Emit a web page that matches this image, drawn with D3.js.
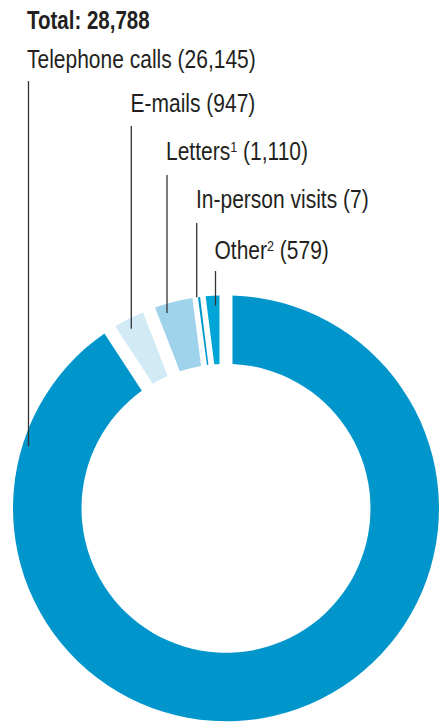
<!DOCTYPE html>
<html>
<head>
<meta charset="utf-8">
<script src="https://cdn.jsdelivr.net/npm/d3@7"></script>
<style>
  html, body { margin: 0; padding: 0; background: #fff; }
  svg { display: block; }
  text { font-family: "Liberation Sans", Arial, sans-serif; fill: #231f20; }
</style>
</head>
<body>
<svg id="chart" width="442" height="722"></svg>
<script>
// Enquiries by channel
const channels = ["Telephone calls", "E-mails", "Letters", "In-person visits", "Other"];
const counts = [26145, 947, 1110, 7, 579];
const footnotes = ["", "", "1", "", "2"];
const colors = ["#0096cc", "#d2e9f6", "#9fd3ec", "#0096cc", "#00a5d8"];

// Label placement: text x, baseline y, leader x, leader top, leader inset from outer edge
const labelX = [27, 130.5, 166, 196, 214.5];
const labelY = [68.3, 112.3, 160, 208.3, 258.7];
const leaderX = [28.5, 131.3, 167, 196.7, 215.5];
const leaderTop = [81, 126, 175, 223, 271];
const leaderInset = [6, 10, 9, 0, 10];

const W = 442, H = 722;
const cx = 226, cy = 508.3;
const outerR = 213, innerR = 144.5;
const gapPx = 13;
const minSlicePx = 2.2;
const fontSize = 25;
const titleSqueeze = 0.82; // horizontal squeeze for a condensed face
const labelSqueeze = 0.84;

const svg = d3.select("#chart");
const fmt = d3.format(",");
const total = d3.sum(counts);

const rows = channels.map((name, i) => ({ name, value: counts[i], note: footnotes[i], color: colors[i], i }));

const pie = d3.pie().sort(null).value(d => d.value).startAngle(0).endAngle(2 * Math.PI);
const arcs = pie(rows);

const padA = gapPx / outerR;
const arc = d3.arc()
  .innerRadius(innerR)
  .outerRadius(outerR)
  .padRadius(outerR)
  .padAngle(d => d.display ? 0 : padA);

// Very small slices are widened to a hairline so they stay visible
arcs.forEach(d => {
  const span = d.endAngle - d.startAngle;
  if (span < padA) {
    const mid = (d.startAngle + d.endAngle) / 2;
    const half = (minSlicePx / outerR) / 2;
    d.display = true;
    d.startAngle = mid - half;
    d.endAngle = mid + half;
  }
});

const ring = svg.append("g").attr("transform", `translate(${cx},${cy})`);
ring.selectAll("path")
  .data(arcs)
  .join("path")
  .attr("d", arc)
  .attr("fill", d => d.data.color);

function condensedText(x, y, squeeze) {
  return svg.append("text")
    .attr("transform", `translate(${x},${y}) scale(${squeeze},1)`)
    .attr("font-size", fontSize);
}

// Title
condensedText(27, 28.5, titleSqueeze)
  .attr("font-weight", "bold")
  .text(`Total: ${fmt(total)}`);

// Labels with leader lines
rows.forEach((d, i) => {
  const t = condensedText(labelX[i], labelY[i], labelSqueeze);
  t.append("tspan").text(d.name);
  if (d.note) {
    t.append("tspan").attr("font-size", 15).attr("dy", -8).text(d.note);
    t.append("tspan").attr("dy", 8).text(` (${fmt(d.value)})`);
  } else {
    t.append("tspan").text(` (${fmt(d.value)})`);
  }

  const dx = leaderX[i] - cx;
  const r = outerR - leaderInset[i];
  const yEnd = cy - Math.sqrt(r * r - dx * dx);
  svg.append("line")
    .attr("x1", leaderX[i]).attr("x2", leaderX[i])
    .attr("y1", leaderTop[i]).attr("y2", yEnd)
    .attr("stroke", "#333")
    .attr("stroke-width", 1.3);
});
</script>
</body>
</html>
